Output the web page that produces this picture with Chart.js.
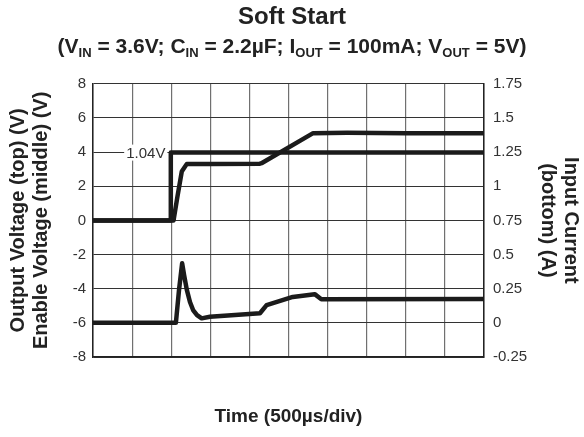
<!DOCTYPE html>
<html>
<head>
<meta charset="utf-8">
<script src="https://cdn.jsdelivr.net/npm/chart.js@4.4.0/dist/chart.umd.min.js"></script>
<style>
  body { margin: 0; background: #fff; }
</style>
</head>
<body>
<canvas id="softStart" width="584" height="437"></canvas>
<script>
// Time axis in divisions (500us each)
const outputTime = [0, 2.06, 2.16, 2.27, 2.40, 3.0, 4.27, 4.31, 5.63, 6.5, 8, 10];
const outputVolts = [0, 0, 1.4, 2.86, 3.31, 3.3, 3.32, 3.35, 5.11, 5.13, 5.1, 5.1];

const enableTime = [0, 1.99, 1.99, 10];
const enableVolts = [0, 0, 3.97, 3.97];

const currentTime = [0, 2.12, 2.20, 2.28, 2.33, 2.40, 2.48, 2.56, 2.66, 2.78, 2.99, 4.27, 4.44, 5.11, 5.67, 5.84, 10];
const currentAmps = [0, 0, 0.24, 0.436, 0.35, 0.241, 0.153, 0.094, 0.057, 0.033, 0.045, 0.07, 0.13, 0.19, 0.21, 0.173, 0.175];

const enableLabel = '1.04V';

const titleText = 'Soft Start';
const subtitleParts = [
    ['(V', false], ['IN', true], [' = 3.6V; C', false], ['IN', true],
    [' = 2.2µF; I', false], ['OUT', true], [' = 100mA; V', false], ['OUT', true], [' = 5V)', false]
];
const leftTitle = ['Output Voltage (top) (V)', 'Enable Voltage (middle) (V)'];
const rightTitle = ['Input Current', '(bottom) (A)'];
const xTitle = 'Time (500µs/div)';

const FONT = "'Liberation Sans', Arial, sans-serif";
const toPoints = (xs, ys) => xs.map((x, i) => ({ x: x, y: ys[i] }));

// subtitle with subscripts
const subtitlePlugin = {
    id: 'subtitleSub',
    afterDraw(chart) {
        const ctx = chart.ctx;
        const mainFont = 'bold 21px ' + FONT;
        const subFont = 'bold 13px ' + FONT;
        ctx.save();
        let total = 0;
        subtitleParts.forEach(([t, sub]) => {
            ctx.font = sub ? subFont : mainFont;
            total += ctx.measureText(t).width;
        });
        let x = chart.width / 2 - total / 2;
        const y = 53;
        ctx.fillStyle = '#222';
        ctx.textBaseline = 'alphabetic';
        ctx.textAlign = 'left';
        subtitleParts.forEach(([t, sub]) => {
            ctx.font = sub ? subFont : mainFont;
            ctx.fillText(t, x, sub ? y + 4 : y);
            x += ctx.measureText(t).width;
        });
        ctx.restore();
    }
};

// "1.04V" label on the enable level
const labelPlugin = {
    id: 'enableLabel',
    beforeDatasetsDraw(chart) {
        const ctx = chart.ctx;
        const xs = chart.scales.x;
        const ys = chart.scales.y;
        const cx = xs.getPixelForValue(1.35);
        const cy = ys.getPixelForValue(enableVolts[3]);
        ctx.save();
        ctx.font = '15px ' + FONT;
        const w = ctx.measureText(enableLabel).width;
        ctx.fillStyle = '#fff';
        ctx.fillRect(cx - w / 2 - 2, cy - 8, w + 4, 16);
        ctx.fillStyle = '#333';
        ctx.textAlign = 'center';
        ctx.textBaseline = 'middle';
        ctx.fillText(enableLabel, cx, cy + 1);
        ctx.restore();
    }
};

const traceStyle = {
    borderColor: '#1b1b1b',
    borderWidth: 4.5,
    borderJoinStyle: 'round',
    borderCapStyle: 'round',
    pointRadius: 0,
    tension: 0,
    fill: false
};

const tickFont = { family: FONT, size: 15 };
const axisTitleFont = { family: FONT, size: 20, weight: 'bold', lineHeight: 1.15 };

new Chart(document.getElementById('softStart'), {
    type: 'line',
    data: {
        datasets: [
            { label: 'Output', data: toPoints(outputTime, outputVolts), yAxisID: 'y', ...traceStyle },
            { label: 'Enable', data: toPoints(enableTime, enableVolts), yAxisID: 'y', ...traceStyle },
            { label: 'Current', data: toPoints(currentTime, currentAmps), yAxisID: 'y1', ...traceStyle }
        ]
    },
    options: {
        responsive: false,
        animation: false,
        layout: { padding: 0 },
        plugins: {
            legend: { display: false },
            tooltip: { enabled: false },
            title: {
                display: true,
                text: titleText,
                color: '#222',
                font: { family: FONT, size: 24, weight: 'bold' },
                padding: { top: 3, bottom: 52 }
            }
        },
        scales: {
            x: {
                type: 'linear',
                min: 0,
                max: 10,
                ticks: { display: false, stepSize: 1 },
                grid: { color: '#707070', lineWidth: 1.2, drawTicks: false },
                border: { display: true, color: '#222', width: 1.5 },
                title: {
                    display: true,
                    text: xTitle,
                    color: '#222',
                    font: { family: FONT, size: 19, weight: 'bold' },
                    padding: { top: 4, bottom: 9 }
                },
                afterFit: (scale) => { scale.height = 80; }
            },
            y: {
                position: 'left',
                min: -8,
                max: 8,
                ticks: { stepSize: 2, padding: 7, color: '#333', font: tickFont },
                grid: { color: '#333', lineWidth: 1, drawTicks: false },
                border: { display: true, color: '#222', width: 1.5 },
                title: {
                    display: true,
                    text: leftTitle,
                    color: '#222',
                    font: axisTitleFont,
                    padding: { top: 7, bottom: 4 }
                },
                afterFit: (scale) => { scale.width = 93; }
            },
            y1: {
                position: 'right',
                min: -0.25,
                max: 1.75,
                ticks: {
                    stepSize: 0.25,
                    padding: 9,
                    color: '#333',
                    font: tickFont,
                    callback: (value) => String(Number(value.toFixed(2)))
                },
                grid: { display: false, drawTicks: false },
                border: { display: true, color: '#222', width: 1.5 },
                title: {
                    display: true,
                    text: rightTitle,
                    color: '#222',
                    font: axisTitleFont,
                    padding: { top: 2, bottom: 4 }
                },
                afterFit: (scale) => { scale.width = 100; }
            }
        }
    },
    plugins: [subtitlePlugin, labelPlugin]
});
</script>
</body>
</html>
